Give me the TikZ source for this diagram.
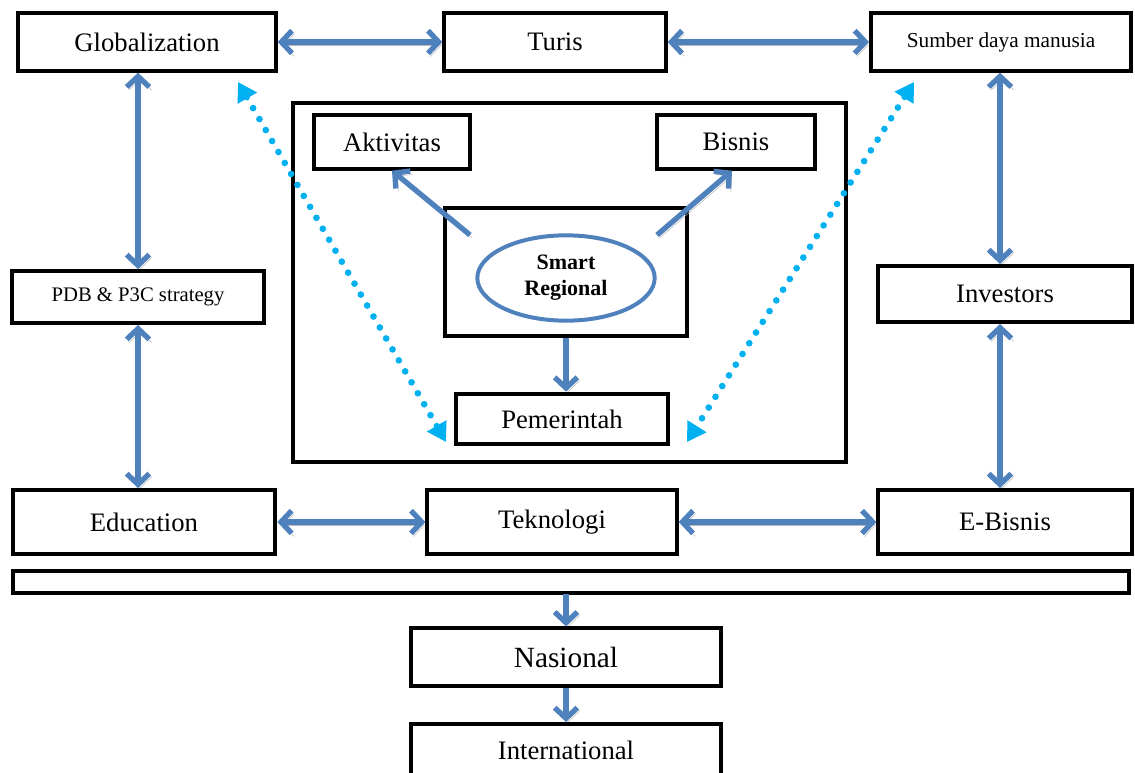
\documentclass[tikz,border=0pt]{standalone}
\usepackage{fontspec}
\setmainfont{Liberation Serif}
\usetikzlibrary{arrows.meta,shapes.geometric}
\definecolor{arrblue}{RGB}{79,129,189}
\definecolor{dotblue}{RGB}{0,176,240}
\begin{document}
\begin{tikzpicture}[x=0.75pt, y=-0.75pt,
    box/.style={rectangle, draw, line width=3pt, fill=white, font=\fontsize{20}{24}\selectfont},
    link/.style={arrblue, line width=4pt, {Straight Barb[length=8pt,width=17pt]}-{Straight Barb[length=8pt,width=17pt]},
        preaction={draw=gray!55, transform canvas={xshift=1.8pt, yshift=-2.4pt}}},
    down/.style={arrblue, line width=4pt, -{Straight Barb[length=8pt,width=17pt]},
        preaction={draw=gray!55, transform canvas={xshift=1.8pt, yshift=-2.4pt}}},
    dots/.style={dotblue, line width=5pt, line cap=round, dash pattern=on 0pt off 9.5pt,
        {Triangle[length=14pt,width=16pt,line cap=butt]}-{Triangle[length=14pt,width=16pt,line cap=butt]}}
]
\useasboundingbox (0,0) rectangle (1135,772);

% Rahmen
\draw[line width=3pt] (293,103) rectangle (846,462);
\draw[line width=3pt] (13,571) rectangle (1129,593);
\node[draw, line width=3pt, minimum width=182pt, minimum height=96pt] (core) at (566,272) {};

% Kotak
\node[box, minimum width=193pt, minimum height=43pt] (glob) at (147,42) {Globalization};
\node[box, minimum width=166pt, minimum height=43pt] (turis) at (555,42) {Turis};
\node[box, minimum width=195pt, minimum height=43pt, font=\fontsize{16}{19}\selectfont] (sdm) at (1001,42) {Sumber daya manusia};
\node[box, minimum width=189pt, minimum height=39pt, font=\fontsize{15.5}{19}\selectfont] (pdb) at (138,297) {PDB \& P3C strategy};
\node[box, minimum width=190pt, minimum height=42pt] (inv) at (1005,294) {Investors};
\node[box, minimum width=197pt, minimum height=48pt] (edu) at (144,522) {Education};
\node[box, minimum width=187pt, minimum height=48pt] (tek) at (552,522) {Teknologi};
\node[box, minimum width=190pt, minimum height=48pt] (ebis) at (1005,522) {E-Bisnis};
\node[box, minimum width=117pt, minimum height=40pt] (akt) at (392,142) {Aktivitas};
\node[box, minimum width=119pt, minimum height=40pt] (bis) at (736,142) {Bisnis};
\node[box, minimum width=159pt, minimum height=38pt] (pem) at (562,419) {Pemerintah};
\node[box, minimum width=232pt, minimum height=43pt, font=\fontsize{22}{26}\selectfont] (nas) at (566,657) {Nasional};
\node[box, minimum width=232pt, minimum height=40pt, anchor=north] (intl) at (566,722) {International};
\node[ellipse, draw=arrblue, line width=3pt, minimum width=133pt, minimum height=64pt, align=center,
    font=\bfseries\fontsize{16.5}{19.5}\selectfont] (smart) at (566,278) {Smart\\Regional};

% Panah
\coordinate (c1) at (470,235);
\coordinate (c2) at (657,235);
\coordinate (bar) at (566,594);
\draw[link] (glob) -- (turis);
\draw[link] (turis) -- (sdm);
\draw[link] (glob.south -| 138,0) -- (pdb.north -| 138,0);
\draw[link] (pdb) -- (edu.north -| pdb);
\draw[link] (sdm.south -| 1000,0) -- (inv.north -| 1000,0);
\draw[link] (inv.south -| 1000,0) -- (ebis.north -| 1000,0);
\draw[link] (edu) -- (tek);
\draw[link] (tek) -- (ebis);
\draw[down] (c1) -- (akt.south);
\draw[down] (c2) -- (bis.south -| 732,0);
\draw[down] (core.south) -- (core.south |- pem.north);
\draw[down] (bar) -- (nas.north);
\draw[down] (nas) -- (intl);

% Titik
\coordinate (g1) at (238,82);
\coordinate (p1) at (446,442);
\coordinate (s1) at (914,82);
\coordinate (p2) at (687,442);
\draw[dots] (g1) -- (p1);
\draw[dots] (s1) -- (p2);
\end{tikzpicture}
\end{document}
